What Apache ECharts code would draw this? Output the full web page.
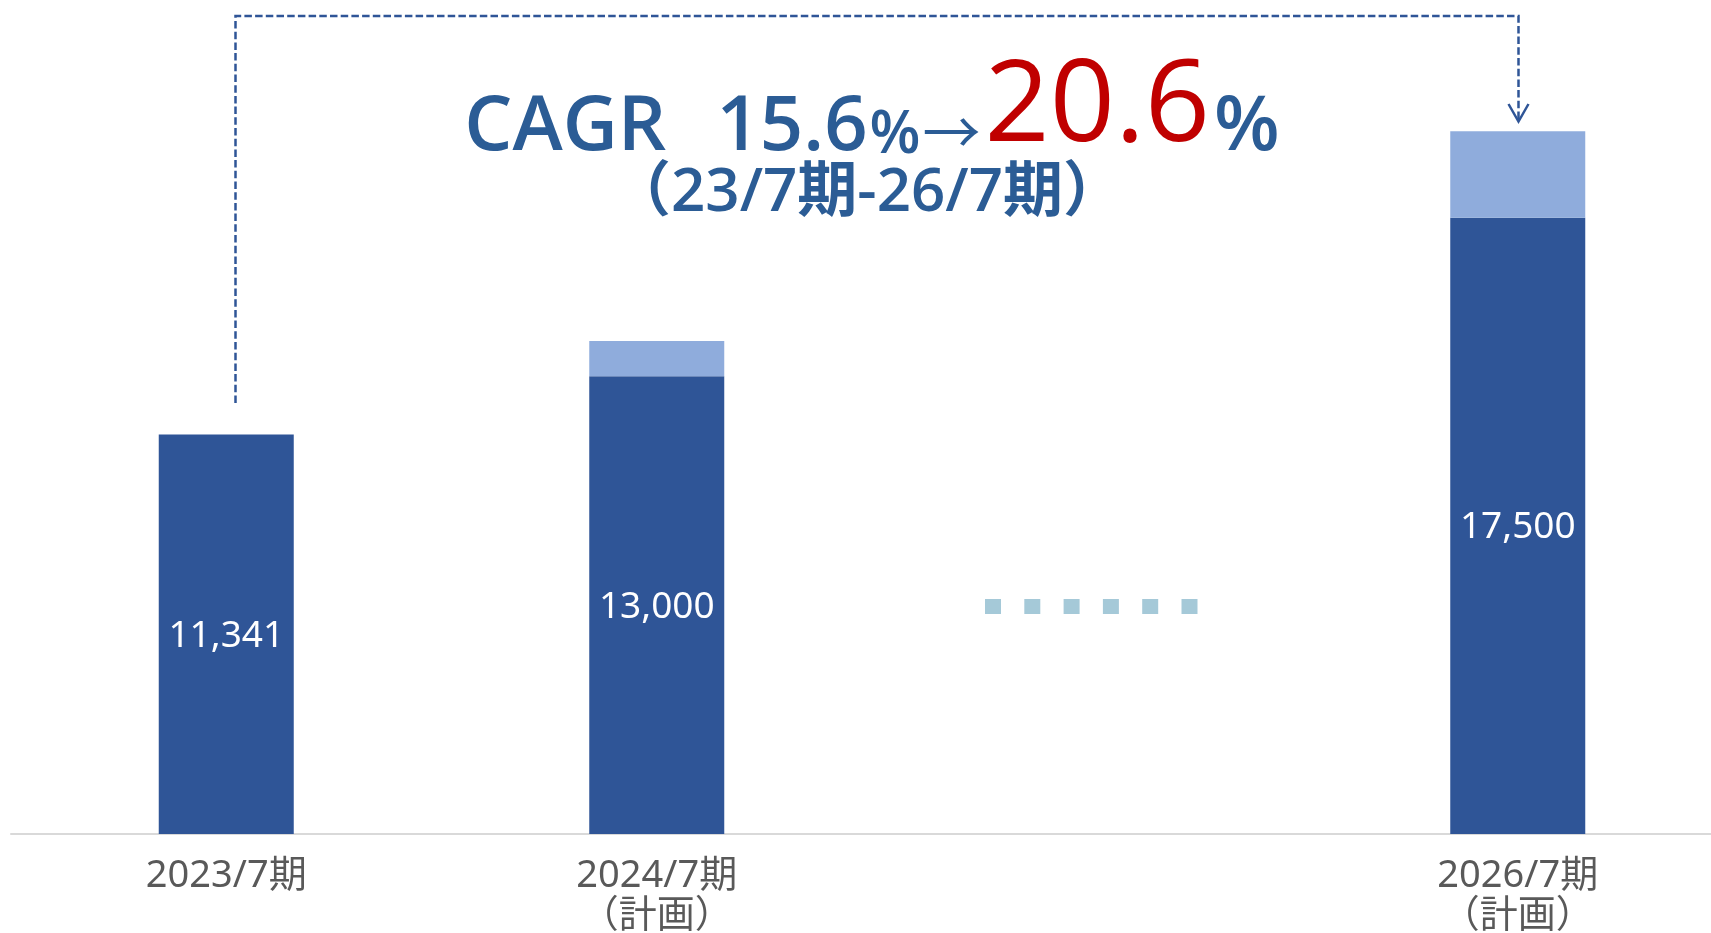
<!DOCTYPE html>
<html>
<head>
<meta charset="utf-8">
<script src="https://cdn.jsdelivr.net/npm/echarts@6/dist/echarts.min.js"></script>
<style>
  html, body { margin: 0; padding: 0; background: #fff; }
  #main { width: 1711px; height: 933px; }
</style>
</head>
<body>
<div id="main"></div>
<script>
var periods = ['2023/7期', '2024/7期\n（計画）', '', '2026/7期\n（計画）'];
var baseValues = [11341, 13000, '-', 17500];
var extraValues = ['-', 1000, '-', 2450];

var FONT = "'Noto Sans', 'Noto Sans CJK JP', sans-serif";
var TITLE_FONT = "'Open Sans', 'Noto Sans CJK JP', sans-serif";
var BLUE = '#2F5597';
var TITLE_BLUE = '#2B5C95';

function withComma(v) {
  return String(v).replace(/\B(?=(\d{3})+(?!\d))/g, ',');
}

var myChart = echarts.init(document.getElementById('main'));

// 点々（2025/7期の省略）
var dots = [];
for (var i = 0; i < 6; i++) {
  dots.push({
    type: 'rect',
    shape: { x: 985 + i * 39.3, y: 599, width: 16, height: 15 },
    style: { fill: '#A5C9D8' }
  });
}

option = {
  animation: false,
  grid: {
    left: 11,
    right: -22,
    top: 0,
    bottom: 99,
    outerBoundsMode: 'none'
  },
  xAxis: {
    type: 'category',
    data: periods,
    axisLine: { lineStyle: { color: '#D9D9D9', width: 2 } },
    axisTick: { show: false },
    axisLabel: {
      color: '#595959',
      fontSize: 38,
      lineHeight: 40,
      margin: 22,
      fontFamily: FONT,
      interval: 0
    }
  },
  yAxis: {
    type: 'value',
    min: 0,
    max: 23680,
    show: false,
    splitLine: { show: false }
  },
  series: [
    {
      name: '実績・計画',
      type: 'bar',
      stack: 'total',
      barWidth: 135,
      data: baseValues,
      itemStyle: { color: BLUE },
      label: {
        show: true,
        position: 'inside',
        offset: [0, 2],
        color: '#fff',
        fontSize: 37,
        fontFamily: FONT,
        formatter: function (p) { return withComma(p.value); }
      }
    },
    {
      name: '上積み',
      type: 'bar',
      stack: 'total',
      barWidth: 135,
      data: extraValues,
      itemStyle: { color: '#8FACDC' }
    }
  ],
  graphic: [
    {
      type: 'polyline',
      shape: { points: [[235.5, 403], [235.5, 16], [1518.5, 16], [1518.5, 120]] },
      style: { stroke: BLUE, lineWidth: 2.5, lineDash: [7.5, 3.2], fill: null }
    },
    {
      type: 'polyline',
      shape: { points: [[1508.5, 104], [1518.5, 121.5], [1528.5, 104]] },
      style: { stroke: BLUE, lineWidth: 2.5, fill: null }
    },
    {
      type: 'text',
      x: 872,
      y: 166,
      style: {
        text: '{a|CAGR}{n|15.6}{p|%}{r|→}{b|20.6}{q|%}',
        align: 'center',
        verticalAlign: 'bottom',
        rich: {
          a: { fontSize: 76, fontWeight: 600, fill: TITLE_BLUE, fontFamily: TITLE_FONT, lineHeight: 57, verticalAlign: 'bottom' },
          n: { fontSize: 76, fontWeight: 600, fill: TITLE_BLUE, fontFamily: TITLE_FONT, lineHeight: 57, verticalAlign: 'bottom', padding: [0, 0, 0, 50] },
          p: { fontSize: 59, fontWeight: 600, fill: TITLE_BLUE, fontFamily: TITLE_FONT, lineHeight: 45, verticalAlign: 'bottom', padding: [0, 2, 0, 2] },
          r: { fontSize: 58, fontWeight: 'normal', fill: TITLE_BLUE, fontFamily: TITLE_FONT, lineHeight: 62, verticalAlign: 'bottom' },
          b: { fontSize: 114, fontWeight: 500, fill: '#C00000', fontFamily: TITLE_FONT, lineHeight: 86, verticalAlign: 'bottom', padding: [0, 4, 0, 4] },
          q: { fontSize: 76, fontWeight: 600, fill: TITLE_BLUE, fontFamily: TITLE_FONT, lineHeight: 57, verticalAlign: 'bottom' }
        }
      }
    },
    {
      type: 'text',
      x: 867,
      y: 194,
      style: {
        text: '（23/7期-26/7期）',
        align: 'center',
        verticalAlign: 'middle',
        fontSize: 60,
        fontWeight: 600,
        fill: TITLE_BLUE,
        fontFamily: TITLE_FONT
      }
    },
    { type: 'group', children: dots }
  ]
};

if (option && typeof option === 'object') {
  myChart.setOption(option, true);
}
</script>
</body>
</html>
